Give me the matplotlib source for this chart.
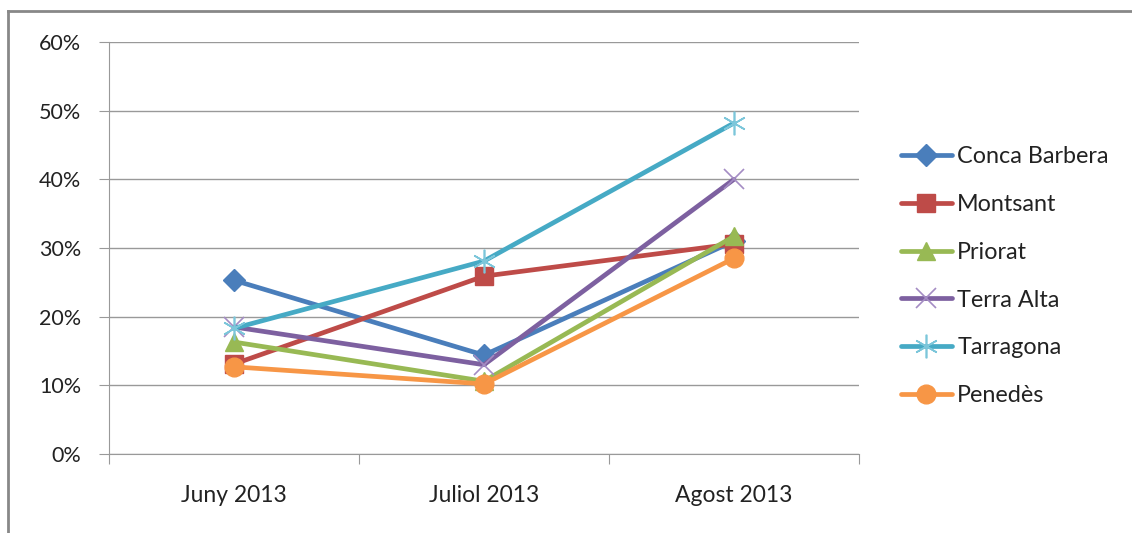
import matplotlib.pyplot as plt
from matplotlib.lines import Line2D
from matplotlib.ticker import FuncFormatter, MultipleLocator

plt.rcParams['font.family'] = ['Lato', 'DejaVu Sans']

# DATA
months = ['Juny 2013', 'Juliol 2013', 'Agost 2013']
conca_barbera = [25.3, 14.4, 31.0]
montsant = [13.1, 25.9, 30.6]
priorat = [16.3, 10.6, 31.7]
terra_alta = [18.5, 13.0, 40.0]
tarragona = [18.3, 28.1, 48.2]
penedes = [12.7, 10.2, 28.5]

# name, values, line colour, marker, size, edge width, edge colour
series = [
    ('Conca Barbera', conca_barbera, '#4A7EBB', 'D', 11, 1.0, '#4A7EBB'),
    ('Montsant', montsant, '#BE4B48', 's', 12.5, 1.0, '#BE4B48'),
    ('Priorat', priorat, '#98B954', '^', 13.5, 1.0, '#98B954'),
    ('Terra Alta', terra_alta, '#7D60A0', 'x', 15, 1.2, '#A48CC4'),
    ('Tarragona', tarragona, '#46AAC5', (6, 2, 0), 17, 1.2, '#7CC6DA'),
    ('Penedès', penedes, '#F79646', 'o', 13.5, 1.0, '#F79646'),
]

fig = plt.figure(figsize=(11.32, 5.33), dpi=100)
ax = fig.add_axes([0.0963, 0.1482, 0.6625, 0.773])

x = list(range(len(months)))
for name, vals, col, mk, ms, mew, mec in series:
    ax.plot(x, vals, color=col, lw=3.4, marker=mk, markersize=ms,
            markeredgewidth=mew, markeredgecolor=mec, markerfacecolor=col,
            label=name, solid_capstyle='round')

ax.set_xlim(-0.5, 2.5)
ax.set_ylim(0, 60)
ax.yaxis.set_major_locator(MultipleLocator(10))
ax.yaxis.set_major_formatter(FuncFormatter(lambda v, p: '%d%%' % v))
ax.set_xticks([-0.5, 0.5, 1.5, 2.5])
ax.set_xticklabels([])
ax.set_xticks(x, minor=True)
ax.set_xticklabels(months, minor=True)
ax.tick_params(axis='x', which='minor', length=0, pad=22, labelsize=16.5,
               labelcolor='#222222')
ax.tick_params(axis='x', which='major', length=7, color='#999999')
ax.tick_params(axis='y', length=7, color='#999999', labelsize=15.5,
               labelcolor='#222222', pad=13)

ax.grid(axis='y', color='#999999', lw=1)
ax.set_axisbelow(True)
for s in ['top', 'right']:
    ax.spines[s].set_visible(False)
for s in ['left', 'bottom']:
    ax.spines[s].set_color('#999999')

leg = ax.legend(loc='center left', bbox_to_anchor=(0.7875, 0.482),
                bbox_transform=fig.transFigure, frameon=False,
                fontsize=16.8, handlelength=2.2, handletextpad=0.22,
                labelspacing=1.15, borderaxespad=0)
for t in leg.get_texts():
    t.set_color('#222222')

# outer chart frame (left and top edges)
fig.add_artist(Line2D([8 / 1132, 8 / 1132], [0, 1 - 11 / 533],
                      transform=fig.transFigure, color='#888888', lw=2))
fig.add_artist(Line2D([8 / 1132, 1], [1 - 11 / 533, 1 - 11 / 533],
                      transform=fig.transFigure, color='#888888', lw=2))

fig.savefig('out.png', dpi=100)
